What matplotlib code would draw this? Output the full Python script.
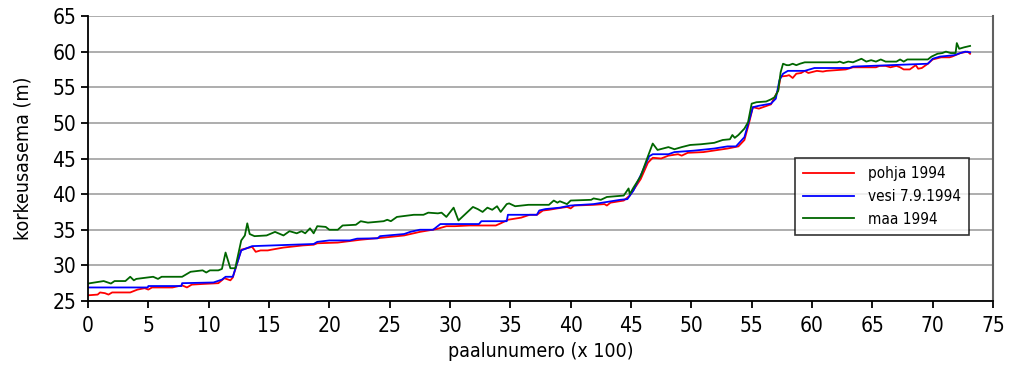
import matplotlib
matplotlib.use("Agg")
import matplotlib.pyplot as plt
from matplotlib import font_manager
from matplotlib.font_manager import FontProperties
import os

# pick a narrow font if one is installed
cands = []
for f in font_manager.fontManager.ttflist:
    b = os.path.basename(f.fname)
    if b.startswith('LiberationSansNarrow-Regular'):
        cands.append((0, f.fname))
    elif b.startswith('DejaVuSansCondensed.'):
        cands.append((1, f.fname))
cands.sort()
if cands:
    FP = lambda size: FontProperties(fname=cands[0][1], size=size)
    NARROW = True
else:
    FP = lambda size: FontProperties(family=['Liberation Sans', 'DejaVu Sans'], size=size)
    NARROW = False

x_label = "paalunumero (x 100)"
y_label = "korkeusasema (m)"
series_names = ["pohja 1994", "vesi 7.9.1994", "maa 1994"]
x_ticks = list(range(0, 76, 5))
y_ticks = list(range(25, 66, 5))

pohja_x = [0, 0.8, 1.0, 1.4, 1.7, 2.0, 3.5, 4.1, 4.7, 5.0, 5.3, 7.0, 7.8, 8.2, 8.6, 9.6, 10.8, 11.3, 11.8, 12.0, 12.7, 13.6, 13.9, 14.3,
           14.9, 15.2, 16.2, 17.8, 18.7, 19.0, 20.7, 22.6, 24.5, 26.2, 27.5, 28.9, 29.7, 30.4, 31.6, 31.9, 33.8, 34.2, 34.8, 35.9,
           36.6, 37.2, 37.7, 38.2, 38.9, 39.7, 40.0, 40.3, 41.9, 42.8, 43.0, 43.3, 44.4, 44.9, 45.8, 46.4, 46.8, 47.5, 48.1, 48.9,
           49.2, 49.7, 51.0, 53.0, 53.9, 54.4, 54.8, 55.1, 55.6, 56.6, 57.2, 57.4, 57.9, 58.1, 58.4, 58.7, 59.1, 59.4, 59.7, 60.4,
           60.9, 61.2, 62.8, 63.4, 65.3, 65.6, 66.1, 66.5, 67.0, 67.3, 67.6, 68.1, 68.6, 68.8, 69.1, 69.6, 70.0, 70.7, 71.4, 71.6,
           72.3, 72.9, 73.1]
pohja_y = [25.8, 25.9, 26.2, 26.1, 25.9, 26.2, 26.2, 26.6, 26.8, 26.6, 26.9, 26.9, 27.2, 26.9, 27.3, 27.4, 27.5, 28.2, 27.9, 28.3, 32.2, 32.6, 31.9, 32.1,
           32.1, 32.2, 32.5, 32.8, 32.9, 33.1, 33.2, 33.6, 33.9, 34.2, 34.7, 35.1, 35.5, 35.5, 35.6, 35.6, 35.6, 35.9, 36.4, 36.7,
           37.1, 37.1, 37.7, 37.8, 38.0, 38.2, 38.0, 38.4, 38.5, 38.6, 38.4, 38.8, 39.1, 39.8, 42.1, 44.4, 45.1, 45.0, 45.4, 45.6,
           45.4, 45.8, 45.9, 46.4, 46.7, 47.6, 50.1, 52.2, 52.0, 52.6, 54.6, 56.5, 56.6, 56.7, 56.3, 56.9, 57.0, 57.3, 57.0, 57.3,
           57.2, 57.3, 57.5, 57.8, 57.8, 58.0, 58.0, 57.8, 58.0, 57.8, 57.5, 57.5, 58.1, 57.6, 57.7, 58.3, 58.9, 59.2, 59.2, 59.3,
           59.8, 60.0, 59.7]

vesi_x = [0, 4.95, 5.0, 7.75, 7.8, 10.4, 11.1, 11.4, 12.0, 12.7, 13.6, 18.7, 19.0, 20.0, 21.7, 22.3, 24.0, 24.2, 26.2, 26.7, 27.5,
          28.6, 29.2, 32.4, 32.6, 34.7, 34.8, 37.2, 37.4, 37.9, 39.1, 40.0, 41.9, 43.0, 44.1, 44.7, 45.2, 45.9, 46.5, 46.8, 48.1,
          48.6, 50.2, 51.9, 53.0, 53.7, 54.4, 54.8, 55.1, 55.6, 56.6, 57.0, 57.3, 57.6, 58.0, 59.4, 60.2, 63.1, 63.4, 69.6, 70.0,
          70.6, 71.8, 72.3, 72.7, 73.1]
vesi_y = [26.9, 26.9, 27.1, 27.1, 27.5, 27.6, 28.0, 28.4, 28.4, 32.1, 32.7, 33.0, 33.3, 33.5, 33.5, 33.75, 33.8, 34.1, 34.4, 34.7, 35.0,
          35.0, 35.8, 35.8, 36.2, 36.2, 37.1, 37.1, 37.7, 37.9, 38.1, 38.4, 38.6, 38.9, 39.2, 39.3, 40.5, 43.0, 45.3, 45.6, 45.6,
          45.9, 46.1, 46.4, 46.7, 46.7, 48.0, 50.4, 52.2, 52.4, 52.7, 53.4, 56.0, 56.9, 57.3, 57.3, 57.7, 57.7, 57.9, 58.3, 59.0,
          59.3, 59.5, 59.8, 60.0, 59.9]

maa_x = [0, 1.3, 1.9, 2.2, 3.1, 3.5, 3.8, 4.0, 5.4, 5.8, 6.1, 7.8, 8.5, 9.5, 9.8, 10.1, 10.8, 11.1, 11.4, 11.8, 12.2, 12.7, 13.0,
         13.2, 13.4, 13.8, 14.8, 15.5, 16.2, 16.7, 17.3, 17.7, 18.0, 18.4, 18.7, 19.0, 19.7, 20.0, 20.7, 21.1, 22.2, 22.6, 23.2,
         24.5, 24.8, 25.1, 25.6, 27.0, 27.8, 28.2, 29.0, 29.3, 29.7, 30.3, 30.7, 31.2, 31.9, 32.3, 32.7, 33.1, 33.5, 33.9, 34.2,
         34.7, 34.9, 35.4, 36.5, 38.2, 38.6, 38.9, 39.1, 39.7, 40.0, 41.7, 41.9, 42.5, 43.0, 44.4, 44.8, 44.9, 45.2, 45.8, 46.4,
         46.8, 47.2, 48.1, 48.6, 49.2, 49.9, 50.8, 51.9, 52.6, 53.2, 53.4, 53.6, 53.9, 54.4, 54.7, 55.0, 55.4, 56.2, 56.6, 56.9,
         57.2, 57.4, 57.6, 57.9, 58.1, 58.4, 58.7, 59.0, 59.4, 62.1, 62.3, 62.6, 63.0, 63.4, 64.1, 64.5, 64.9, 65.3, 65.7, 66.1,
         67.0, 67.3, 67.6, 67.9, 69.6, 69.9, 70.4, 70.8, 71.1, 71.5, 71.9, 72.0, 72.2, 72.6, 73.1]
maa_y = [27.45, 27.8, 27.45, 27.8, 27.8, 28.4, 27.9, 28.1, 28.4, 28.1, 28.4, 28.4, 29.1, 29.3, 29.0, 29.3, 29.3, 29.5, 31.8, 29.6, 29.6, 33.5, 34.2,
         35.9, 34.4, 34.1, 34.2, 34.7, 34.2, 34.8, 34.5, 34.8, 34.5, 35.2, 34.5, 35.5, 35.4, 35.0, 35.0, 35.6, 35.7, 36.2, 36.0,
         36.2, 36.4, 36.2, 36.8, 37.1, 37.1, 37.4, 37.3, 37.4, 36.8, 38.1, 36.3, 37.1, 38.2, 37.9, 37.5, 38.1, 37.8, 38.3, 37.5,
         38.6, 38.7, 38.3, 38.5, 38.5, 39.1, 38.8, 39.0, 38.6, 39.1, 39.2, 39.4, 39.2, 39.6, 39.8, 40.8, 40.0, 40.9, 42.5, 45.3,
         47.1, 46.2, 46.6, 46.3, 46.6, 46.9, 47.0, 47.2, 47.6, 47.7, 48.3, 47.9, 48.3, 49.2, 50.1, 52.7, 52.9, 53.0, 53.3, 53.6,
         54.5, 57.1, 58.3, 58.1, 58.1, 58.3, 58.1, 58.3, 58.5, 58.5, 58.6, 58.4, 58.6, 58.5, 59.0, 58.6, 58.8, 58.6, 58.9, 58.6,
         58.6, 58.9, 58.6, 58.9, 58.9, 59.3, 59.7, 59.8, 60.0, 59.8, 59.8, 61.2, 60.4, 60.6, 60.8]

fig = plt.figure(figsize=(10.15, 3.71), dpi=100)
ax = fig.add_axes([88/1015, 1-301/371, (993-88)/1015, (301-16)/371])

ax.plot(pohja_x, pohja_y, color='#ff0000', lw=1.3, label=series_names[0])
ax.plot(vesi_x, vesi_y, color='#0000ff', lw=1.3, label=series_names[1])
ax.plot(maa_x, maa_y, color='#006600', lw=1.3, label=series_names[2])

ax.set_xlim(0, 75)
ax.set_ylim(25, 65)
ax.set_xticks(x_ticks)
ax.set_yticks(y_ticks)
tick_size = 15 if NARROW else 13
ax.set_xticklabels([str(t) for t in x_ticks], fontproperties=FP(tick_size))
ax.set_yticklabels([str(t) for t in y_ticks], fontproperties=FP(tick_size))
ax.yaxis.grid(True, color='#a0a0a0', lw=1.2)
ax.set_axisbelow(True)
ax.spines['top'].set_visible(False)
ax.spines['right'].set_color('#606060')
ax.spines['right'].set_linewidth(1.5)
ax.spines['left'].set_linewidth(1.3)
ax.spines['bottom'].set_linewidth(1.3)
ax.tick_params(axis='both', direction='out', length=5, width=1.3)
ax.tick_params(axis='x', pad=6)
lab_size = 14 if NARROW else 13
ax.set_xlabel(x_label, fontproperties=FP(lab_size), labelpad=4)
ax.set_ylabel(y_label, fontproperties=FP(lab_size), labelpad=14)

leg_size = 11 if NARROW else 10
leg = ax.legend(loc='upper left', bbox_to_anchor=((795-88)/(993-88), 1-(158-16)/(301-16)),
                frameon=True, fancybox=False, prop=FP(leg_size), borderpad=0.55,
                handlelength=3.3, handletextpad=0.9, labelspacing=0.5, borderaxespad=0)
leg.get_frame().set_edgecolor('#000000')
leg.get_frame().set_linewidth(1.2)

fig.savefig('out.png', dpi=100)
